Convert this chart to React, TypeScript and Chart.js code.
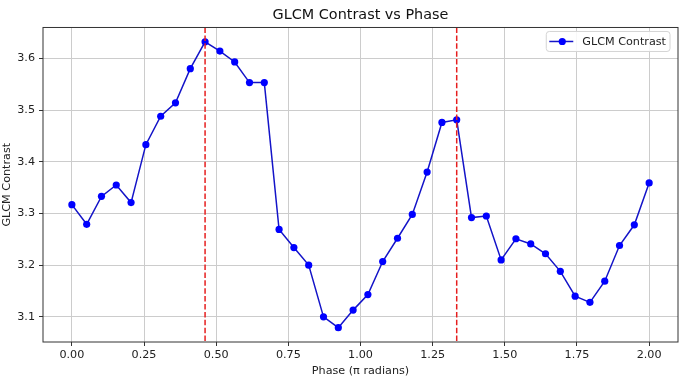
import { useEffect, useRef } from 'react';
import { Chart, registerables } from 'chart.js';

Chart.register(...registerables);

// Phase values (π radians), 40 evenly spaced samples from 0 to 2
const phases = [
  0, 0.0513, 0.1026, 0.1538, 0.2051, 0.2564, 0.3077, 0.359, 0.4103, 0.4615,
  0.5128, 0.5641, 0.6154, 0.6667, 0.7179, 0.7692, 0.8205, 0.8718, 0.9231, 0.9744,
  1.0256, 1.0769, 1.1282, 1.1795, 1.2308, 1.2821, 1.3333, 1.3846, 1.4359, 1.4872,
  1.5385, 1.5897, 1.641, 1.6923, 1.7436, 1.7949, 1.8462, 1.8974, 1.9487, 2.0,
];

// GLCM contrast
const contrast = [
  3.317, 3.279, 3.333, 3.355, 3.321, 3.433, 3.488, 3.514, 3.58, 3.632,
  3.614, 3.593, 3.553, 3.553, 3.269, 3.234, 3.2, 3.1, 3.079, 3.113,
  3.143, 3.207, 3.252, 3.298, 3.38, 3.476, 3.481, 3.292, 3.295, 3.21,
  3.251, 3.241, 3.222, 3.188, 3.14, 3.128, 3.169, 3.238, 3.278, 3.359,
];

// Vertical dashed markers (peak phases)
const peakPhases = [0.4615, 1.3333];

const xTickValues = [0, 0.25, 0.5, 0.75, 1.0, 1.25, 1.5, 1.75, 2.0];
const yTickValues = [3.1, 3.2, 3.3, 3.4, 3.5, 3.6];

const seriesLabel = 'GLCM Contrast';
const titleText = 'GLCM Contrast vs Phase';
const xTitle = 'Phase (π radians)';
const yTitle = 'GLCM Contrast';

// matplotlib-like 5% margins
const xLo = Math.min(...phases), xHi = Math.max(...phases);
const yLo = Math.min(...contrast), yHi = Math.max(...contrast);
const xPad = (xHi - xLo) * 0.05;
const yPad = (yHi - yLo) * 0.05;

const FONT = "'DejaVu Sans', sans-serif";
const FS = 11.2;
const LINE_COLOR = '#1414c8';
const MARKER_COLOR = '#0000ff';

const peakLinesPlugin = {
  id: 'peakLines',
  afterDatasetsDraw(chart: any) {
    const { ctx, chartArea, scales } = chart;
    ctx.save();
    ctx.beginPath();
    ctx.rect(chartArea.left, chartArea.top, chartArea.width, chartArea.height);
    ctx.clip();
    ctx.strokeStyle = '#e61e1e';
    ctx.lineWidth = 1.5;
    ctx.setLineDash([5.5, 2.4]);
    peakPhases.forEach((p) => {
      const x = scales.x.getPixelForValue(p);
      ctx.beginPath();
      ctx.moveTo(x, chartArea.top);
      ctx.lineTo(x, chartArea.bottom);
      ctx.stroke();
    });
    ctx.restore();
  },
};

const framePlugin = {
  id: 'frameAndLegend',
  afterDraw(chart: any) {
    const { ctx, chartArea } = chart;
    ctx.save();
    // axes frame
    ctx.strokeStyle = '#333333';
    ctx.lineWidth = 1;
    ctx.setLineDash([]);
    ctx.strokeRect(chartArea.left, chartArea.top, chartArea.width, chartArea.height);

    // legend box (upper right, inside axes)
    const ds = chart.data.datasets[0];
    ctx.font = `${FS}px ${FONT}`;
    const tw = ctx.measureText(ds.label).width;
    const boxW = 36 + tw + 4;
    const boxH = 20;
    const bx = chartArea.right - 8 - boxW;
    const by = chartArea.top + 4;
    const r = 3;
    ctx.beginPath();
    ctx.moveTo(bx + r, by);
    ctx.lineTo(bx + boxW - r, by);
    ctx.quadraticCurveTo(bx + boxW, by, bx + boxW, by + r);
    ctx.lineTo(bx + boxW, by + boxH - r);
    ctx.quadraticCurveTo(bx + boxW, by + boxH, bx + boxW - r, by + boxH);
    ctx.lineTo(bx + r, by + boxH);
    ctx.quadraticCurveTo(bx, by + boxH, bx, by + boxH - r);
    ctx.lineTo(bx, by + r);
    ctx.quadraticCurveTo(bx, by, bx + r, by);
    ctx.closePath();
    ctx.fillStyle = 'rgba(255,255,255,0.85)';
    ctx.fill();
    ctx.strokeStyle = '#d4d4d4';
    ctx.stroke();

    const cy = by + boxH / 2;
    ctx.strokeStyle = ds.borderColor;
    ctx.lineWidth = 1.5;
    ctx.beginPath();
    ctx.moveTo(bx + 3, cy);
    ctx.lineTo(bx + 27, cy);
    ctx.stroke();
    ctx.fillStyle = ds.pointBackgroundColor;
    ctx.beginPath();
    ctx.arc(bx + 16, cy, 3.6, 0, Math.PI * 2);
    ctx.fill();

    ctx.fillStyle = '#222222';
    ctx.textBaseline = 'middle';
    ctx.textAlign = 'left';
    ctx.fillText(ds.label, bx + 36, cy + 0.5);
    ctx.restore();
  },
};

export default function App() {
  const canvasRef = useRef<HTMLCanvasElement | null>(null);

  useEffect(() => {
    if (!canvasRef.current) return;
    const chart = new Chart(canvasRef.current, {
      type: 'line',
      data: {
        datasets: [
          {
            label: seriesLabel,
            data: phases.map((p, i) => ({ x: p, y: contrast[i] })),
            borderColor: LINE_COLOR,
            borderWidth: 1.5,
            pointRadius: 3.6,
            pointHoverRadius: 3.6,
            pointBackgroundColor: MARKER_COLOR,
            pointBorderColor: MARKER_COLOR,
            pointBorderWidth: 0,
            tension: 0,
            fill: false,
          },
        ],
      },
      options: {
        responsive: false,
        animation: false,
        devicePixelRatio: 1,
        layout: { padding: { left: 0, right: 12, top: 0, bottom: 0 } },
        plugins: {
          legend: { display: false },
          tooltip: { enabled: false },
          title: {
            display: true,
            text: titleText,
            fullSize: false,
            color: '#111111',
            font: { family: FONT, size: 14.4, weight: 'normal', lineHeight: 1.2 },
            padding: { top: 6.9, bottom: 3.3 },
          },
        },
        scales: {
          x: {
            type: 'linear',
            min: xLo - xPad,
            max: xHi + xPad,
            afterBuildTicks: (scale: any) => {
              scale.ticks = xTickValues.map((v) => ({ value: v }));
            },
            afterFit: (scale: any) => {
              scale.height = 40;
            },
            ticks: {
              autoSkip: false,
              maxRotation: 0,
              padding: 2,
              color: '#222222',
              font: { family: FONT, size: FS },
              callback: (v: any) => Number(v).toFixed(2),
            },
            grid: {
              color: '#cccccc',
              lineWidth: 1,
              tickColor: '#333333',
              tickLength: 4,
            },
            border: { display: false },
            title: {
              display: true,
              text: xTitle,
              color: '#222222',
              font: { family: FONT, size: FS },
              padding: { top: 0, bottom: 4.3 },
            },
          },
          y: {
            type: 'linear',
            min: yLo - yPad,
            max: yHi + yPad,
            afterBuildTicks: (scale: any) => {
              scale.ticks = yTickValues.map((v) => ({ value: v }));
            },
            afterFit: (scale: any) => {
              scale.width = 43;
            },
            ticks: {
              padding: 4,
              color: '#222222',
              font: { family: FONT, size: FS },
              callback: (v: any) => Number(v).toFixed(1),
            },
            grid: {
              color: '#cccccc',
              lineWidth: 1,
              tickColor: '#333333',
              tickLength: 4,
            },
            border: { display: false },
            title: {
              display: true,
              text: yTitle,
              color: '#222222',
              font: { family: FONT, size: FS },
              padding: { top: 0, bottom: 0 },
            },
          },
        },
      },
      plugins: [peakLinesPlugin, framePlugin],
    } as any);
    return () => chart.destroy();
  }, []);

  return (
    <div style={{ position: 'fixed', left: 0, top: 0, width: 690, height: 382, background: '#ffffff' }}>
      <canvas ref={canvasRef} width={690} height={382} style={{ width: 690, height: 382, display: 'block' }} />
    </div>
  );
}
